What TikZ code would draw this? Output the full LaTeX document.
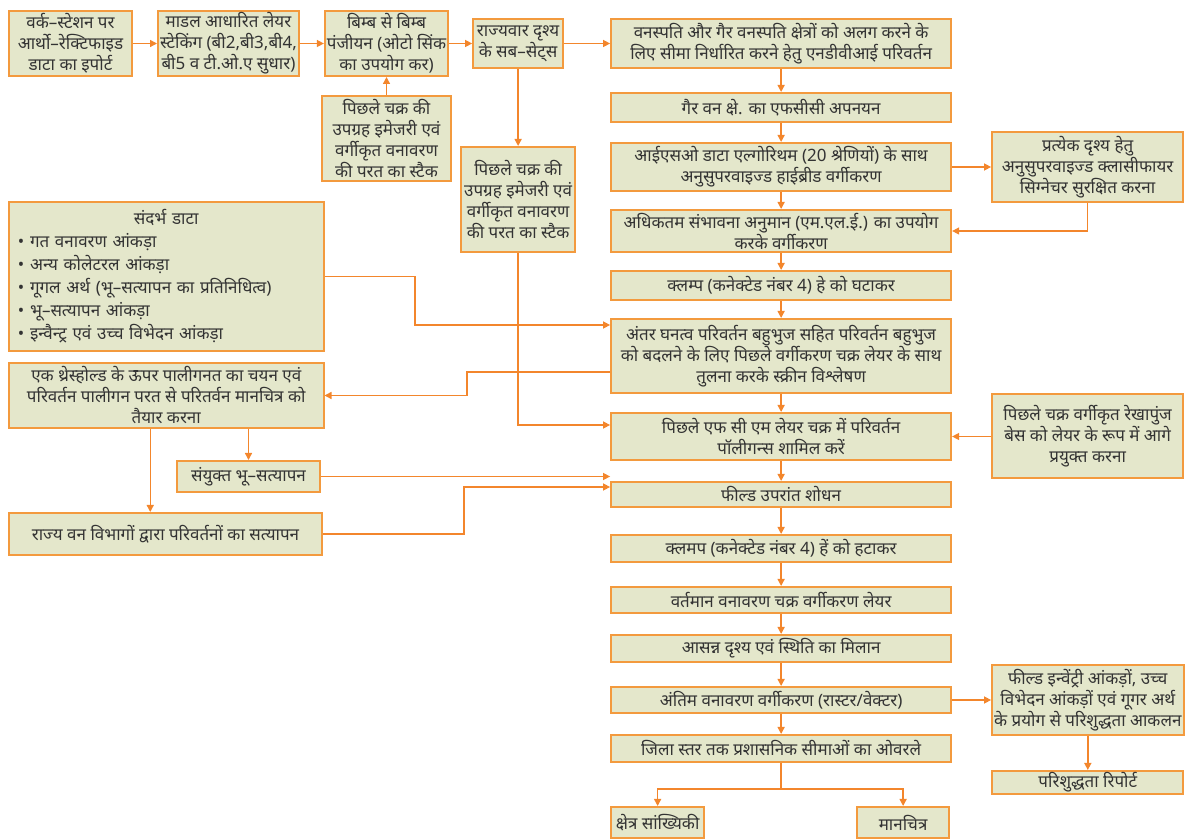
\documentclass[tikz,border=0pt]{standalone}
\usepackage{fontspec}
\setmainfont{Noto Sans}[Script=Devanagari]
\usetikzlibrary{positioning,arrows.meta}
\definecolor{boxfill}{HTML}{E4E7CB}
\definecolor{boxline}{HTML}{F39A3E}
\definecolor{wire}{HTML}{F3862C}
\definecolor{ink}{HTML}{333333}

\begin{document}
\begin{tikzpicture}[
  box/.style={draw=boxline, fill=boxfill, line width=1pt, align=center, inner xsep=1pt, inner ysep=0pt,
              text=ink, font=\fontsize{8.5}{10.5}\selectfont},
  col/.style={box, minimum width=170pt},
  side/.style={box, minimum width=95.5pt},
  flow/.style={draw=wire, line width=0.7pt, -{Triangle[length=3.5pt,width=3.5pt]}}
]
\useasboundingbox (0,0) rectangle (592.5pt,-419.5pt);

\node[box, anchor=north west, minimum width=61.5pt, minimum height=32.5pt] (t1) at (4pt,-5pt)
  {वर्क–स्टेशन पर\\आर्थो–रेक्टिफाइड\\डाटा का इपोर्ट};
\node[box, right=12pt of t1, minimum width=69pt, minimum height=32.5pt] (t2)
  {माडल आधारित लेयर\\स्टेकिंग (बी2,बी3,बी4,\\बी5 व टी.ओ.ए सुधार)};
\node[box, right=12pt of t2, minimum width=61.5pt, minimum height=32.5pt] (t3)
  {बिम्ब से बिम्ब\\पंजीयन (ओटो सिंक\\का उपयोग कर)};
\node[box, right=11.5pt of t3, minimum width=45pt, minimum height=24.5pt] (t4)
  {राज्यवार दृश्य\\के सब–सेट्स};
\node[col, right=23pt of t4, minimum height=24.5pt] (c1)
  {वनस्पति और गैर वनस्पति क्षेत्रों को अलग करने के\\लिए सीमा निर्धारित करने हेतु एनडीवीआई परिवर्तन};
\node[col, below=11.5pt of c1, minimum height=14.5pt] (c2) {गैर वन क्षे. का एफसीसी अपनयन};
\node[col, below=9.5pt of c2, minimum height=24pt] (c3)
  {आईएसओ डाटा एल्गोरिथम (20 श्रेणियों) के साथ\\अनुसुपरवाइज्ड हाईब्रीड वर्गीकरण};
\node[col, below=8.5pt of c3, minimum height=21pt] (c4)
  {अधिकतम संभावना अनुमान (एम.एल.ई.) का उपयोग\\करके वर्गीकरण};
\node[col, below=8.5pt of c4, minimum height=14.5pt] (c5) {क्लम्प (कनेक्टेड नंबर 4) हे को घटाकर};
\node[col, below=8.5pt of c5, minimum height=37pt] (c6)
  {अंतर घनत्व परिवर्तन बहुभुज सहित परिवर्तन बहुभुज\\को बदलने के लिए पिछले वर्गीकरण चक्र लेयर के साथ\\तुलना करके स्क्रीन विश्लेषण};
\node[col, below=9pt of c6, minimum height=23.5pt] (c7)
  {पिछले एफ सी एम लेयर चक्र में परिवर्तन\\पॉलीगन्स शामिल करें};
\node[col, below=10pt of c7, minimum height=12.5pt] (c8) {फील्ड उपरांत शोधन};
\node[col, below=13pt of c8, minimum height=13.5pt] (c9) {क्लमप (कनेक्टेड नंबर 4) हें को हटाकर};
\node[col, below=11.5pt of c9, minimum height=13pt] (c10) {वर्तमान वनावरण चक्र वर्गीकरण लेयर};
\node[col, below=10pt of c10, minimum height=13.5pt] (c11) {आसन्न दृश्य एवं स्थिति का मिलान};
\node[col, below=11.5pt of c11, minimum height=13pt] (c12) {अंतिम वनावरण वर्गीकरण (रास्टर/वेक्टर)};
\node[col, below=10pt of c12, minimum height=13.5pt] (c13) {जिला स्तर तक प्रशासनिक सीमाओं का ओवरले};
\node[box, below=21.5pt of c13.south west, anchor=north west, minimum width=46.5pt, minimum height=15.5pt] (o1)
  {क्षेत्र सांख्यिकी};
\node[box, below=21.5pt of c13.south east, anchor=north east, xshift=-1pt, minimum width=46pt, minimum height=15.5pt] (o2)
  {मानचित्र};

\node[side, right=19.5pt of c3, minimum height=35pt] (r1)
  {प्रत्येक दृश्य हेतु\\अनुसुपरवाइज्ड क्लासीफायर\\सिग्नेचर सुरक्षित करना};
\node[side, right=19.5pt of c7, minimum height=42pt] (r2)
  {पिछले चक्र वर्गीकृत रेखापुंज\\बेस को लेयर के रूप में आगे\\प्रयुक्त करना};
\node[side, right=19.5pt of c12, minimum height=35pt] (r3)
  {फील्ड इन्वेंट्री आंकड़ों, उच्च\\विभेदन आंकड़ों एवं गूगर अर्थ\\के प्रयोग से परिशुद्धता आकलन};
\node[side, below=17pt of r3, minimum height=11.5pt] (r4) {परिशुद्धता रिपोर्ट};

\node[box, below=9pt of t3, minimum width=64.5pt, minimum height=42.5pt] (k1)
  {पिछले चक्र की\\उपग्रह इमेजरी एवं\\वर्गीकृत वनावरण\\की परत का स्टैक};
\node[box, below=38.5pt of t4, minimum width=57pt, minimum height=52.5pt] (k2)
  {पिछले चक्र की\\उपग्रह इमेजरी एवं\\वर्गीकृत वनावरण\\की परत का स्टैक};

\node[box, below=62pt of t1.south west, anchor=north west, minimum width=157.25pt, minimum height=74.5pt,
      align=left, inner xsep=4.5pt, text width=148.25pt, font=\fontsize{8.5}{11.5}\selectfont] (l1)
  {\makebox[148.25pt][c]{संदर्भ डाटा}\\• गत वनावरण आंकड़ा\\• अन्य कोलेटरल आंकड़ा\\• गूगल अर्थ (भू–सत्यापन का प्रतिनिधित्व)\\• भू–सत्यापन आंकड़ा\\• इन्वैन्ट्र एवं उच्च विभेदन आंकड़ा};
\node[box, below=5pt of l1, minimum width=157.25pt, minimum height=32.5pt] (l2)
  {एक थ्रेस्होल्ड के ऊपर पालीगनत का चयन एवं\\परिवर्तन पालीगन परत से परितर्वन मानचित्र को\\तैयार करना};
\node[box, below=15.5pt of l2.south east, anchor=north east, xshift=-1.75pt, minimum width=71.5pt, minimum height=15.5pt] (l3)
  {संयुक्त भू–सत्यापन};
\node[box, below=41.5pt of l2.south west, anchor=north west, minimum width=156.5pt, minimum height=21pt] (l4)
  {राज्य वन विभागों द्वारा परिवर्तनों का सत्यापन};

\draw[flow] (t1) -- (t2);
\draw[flow] (t2) -- (t3);
\draw[flow] (t3) -- (t4);
\draw[flow] (t4) -- (c1);
\draw[flow] (k1) -- (t3);
\draw[flow] (t4.south) -- (t4.south |- k2.north);
\draw[flow] (c1) -- (c2);
\draw[flow] (c2) -- (c3);
\draw[flow] (c3) -- (c4);
\draw[flow] (c4) -- (c5);
\draw[flow] (c5) -- (c6);
\draw[flow] (c6) -- (c7);
\draw[flow] (c7) -- (c8);
\draw[flow] (c8) -- (c9);
\draw[flow] (c9) -- (c10);
\draw[flow] (c10) -- (c11);
\draw[flow] (c11) -- (c12);
\draw[flow] (c12) -- (c13);
\draw[flow] (c13.south) -- ++(0,-13pt) -| (o1.north);
\draw[flow] (c13.south) -- ++(0,-13pt) -| (o2.north);

\draw[flow] (c3) -- (c3 -| r1.west);
\draw[flow] (r1) |- (c4);
\draw[flow] (r2) -- (r2 -| c7.east);
\draw[flow] (c12) -- (c12 -| r3.west);
\draw[flow] (r3) -- (r4);

\draw[flow] (l1.east) -- ++(45.25pt,0) |- ([yshift=15.5pt]c6.west);
\draw[flow] ([yshift=-8pt]c6.west) -- ++(-71.5pt,0) |- (l2.east);
\draw[flow] (k2.south) |- ([yshift=5.75pt]c7.west);
\draw[flow] (l3.north |- l2.south) -- (l3.north);
\draw[flow] ([xshift=-8pt]l2.south) -- ([xshift=-8pt]l2.south |- l4.north);
\draw[flow] (l3.east) -- (l3.east -| c8.west);
\draw[flow] (l4.east) -- ++(70.5pt,0) |- ([yshift=3.75pt]c8.west);
\end{tikzpicture}
\end{document}
